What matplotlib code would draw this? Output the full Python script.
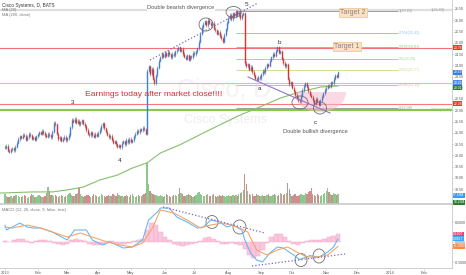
import numpy as np
import pandas as pd
import matplotlib.pyplot as plt
from matplotlib.patches import Ellipse, Polygon

plt.rcParams['font.family'] = ['Liberation Sans', 'DejaVu Sans']

# daily closes from 2 Jan 2013
closes = [
    20.34, 20.42, 20.20, 20.15, 20.26, 20.31, 20.22, 20.38, 20.55, 20.72,
    20.85, 20.78, 20.92, 20.86, 20.70, 20.81, 20.95, 20.88, 20.74, 20.80,
    20.69, 20.85, 20.93, 21.02, 20.96, 21.08, 20.99, 20.90, 20.82, 20.95,
    20.88, 20.80, 21.05, 21.45, 21.38, 20.95, 20.72, 20.80, 20.65, 20.74,
    20.82, 20.68, 20.75, 20.90, 21.25, 21.58, 21.50, 21.62, 21.44, 21.52,
    21.38, 21.47, 21.55, 21.40, 21.30, 21.12, 20.95, 20.88, 21.02, 20.90,
    20.82, 20.95, 20.86, 21.00, 21.12, 21.30, 21.42, 21.20, 21.05, 20.92,
    20.80, 20.86, 20.70, 20.55, 20.62, 20.48, 20.38, 20.45, 20.35, 20.55,
    20.62, 20.50, 20.68, 20.58, 20.72, 20.60, 20.66, 20.85, 20.95, 21.08,
    21.02, 21.15, 21.10, 21.22, 21.16, 20.95, 23.75, 23.95, 23.60, 23.85,
    23.40, 23.20, 23.55, 23.90, 24.20, 24.35, 24.50, 24.38, 24.55, 24.42,
    24.60, 24.48, 24.35, 24.52, 24.45, 24.62, 24.70, 24.80, 24.65, 24.72,
    24.50, 24.38, 24.30, 24.45, 24.25, 24.40, 24.35, 24.55, 24.48, 24.62,
    24.75, 25.05, 25.40, 25.70, 25.85, 25.95, 25.78, 26.02, 25.90, 25.80,
    25.88, 25.62, 25.55, 25.40, 25.48, 25.30, 25.20, 25.05, 25.35, 25.60,
    25.90, 26.10, 26.25, 26.05, 26.30, 26.18, 26.40, 26.22, 26.35, 26.10,
    26.25, 26.30, 24.10, 23.95, 24.05, 23.80, 23.92, 23.70, 23.55, 23.40,
    23.35, 23.50, 23.42, 23.60, 23.75, 23.68, 23.90, 24.05, 23.98, 24.20,
    24.35, 24.50, 24.42, 24.65, 24.80, 24.55, 24.62, 24.30, 24.10, 23.95,
    24.05, 23.40, 23.15, 23.25, 23.00, 22.85, 22.70, 22.55, 22.45, 22.40,
    22.65, 22.90, 23.10, 23.20, 23.05, 22.85, 22.70, 22.60, 22.45, 22.30,
    22.50, 22.40, 22.25, 22.45, 22.60, 22.75, 22.90, 23.00, 23.10, 23.05,
    23.25, 23.20, 23.40, 23.55, 23.50, 23.69,
]

# volume, millions
volumes = [
    58, 45, 40, 38, 42, 35, 44, 48, 52, 47,
    40, 38, 45, 50, 42, 36, 39, 44, 55, 48,
    41, 37, 46, 52, 43, 38, 40, 47, 61, 95,
    70, 52, 48, 44, 50, 46, 39, 42, 51, 45,
    38, 44, 49, 56, 62, 50, 47, 43, 55, 60,
    88, 54, 46, 41, 45, 52, 49, 44, 40, 47,
    53, 48, 42, 39, 45, 58, 50, 44, 41, 46,
    52, 47, 43, 55, 49, 45, 60, 51, 44, 42,
    39, 46, 50, 44, 41, 48, 53, 47, 40, 45,
    51, 46, 42, 49, 55, 62, 230, 110, 75, 60,
    55, 48, 52, 46, 44, 50, 47, 41, 45, 53,
    49, 44, 40, 46, 51, 48, 42, 58, 88, 62,
    54, 47, 43, 50, 56, 49, 45, 41, 47, 52,
    60, 66, 58, 51, 47, 44, 49, 55, 46, 42,
    48, 53, 45, 41, 47, 52, 44, 49, 43, 40,
    46, 51, 45, 42, 48, 44, 50, 47, 55, 62,
    68, 80, 165, 110, 72, 58, 50, 54, 47, 44,
    55, 48, 43, 46, 51, 45, 42, 48, 53, 46,
    44, 50, 57, 48, 45, 52, 60, 55, 49, 58,
    62, 115, 82, 56, 47, 51, 58, 46, 42, 49,
    55, 48, 52, 60, 57, 65, 72, 88, 54, 50,
    47, 53, 49, 45, 51, 56, 62, 70, 88, 66,
    58, 52, 60, 55, 50, 57.53,
]

ma200_idx = [-3, 19, 32, 42, 53, 64, 76, 86, 96, 105, 118, 138, 159, 172, 186, 199, 213, 225]
ma200 = [18.32, 18.37, 18.37, 18.46, 18.59, 18.90, 19.12, 19.43, 19.66, 20.10,
         20.46, 21.12, 21.79, 22.14, 22.54, 22.81, 23.03, 23.08]

macd_idx = [0, 1, 5, 10, 15, 19, 24, 32, 42, 47, 55, 59, 66, 71, 80, 86, 93, 97,
            103, 105, 111, 116, 123, 130, 134, 139, 145, 150, 154, 160, 162, 166,
            170, 174, 179, 184, 188, 195, 199, 206, 212, 218, 222, 225]
macd = [0.42, 0.30, 0.375, 0.475, 0.375, 0.35, 0.35, 0.25, 0.05, 0.30, 0.30, 0.05,
        -0.075, 0.0, -0.15, -0.125, 0.05, 0.55, 0.75, 0.85, 0.85, 0.625, 0.50, 0.35,
        0.375, 0.55, 0.50, 0.375, 0.425, 0.30, 0.05, -0.275, -0.45, -0.50, -0.275,
        -0.125, -0.15, -0.325, -0.44, -0.34, -0.38, -0.25, -0.125, 0.08]

signal_idx = [0, 5, 15, 24, 32, 42, 51, 59, 69, 78, 86, 93, 100, 105, 114, 123, 132,
              139, 147, 157, 164, 170, 177, 184, 191, 197, 204, 211, 218, 225]
signal = [0.375, 0.35, 0.425, 0.35, 0.25, 0.125, 0.225, 0.125, 0.0, -0.075, -0.125,
          -0.025, 0.375, 0.80, 0.725, 0.55, 0.35, 0.425, 0.475, 0.375, 0.25, -0.20,
          -0.325, -0.20, -0.125, -0.25, -0.375, -0.375, -0.325, -0.11]

hist_step = 3
hist = [0.03, 0.0, 0.05, 0.08, 0.07, 0.02, -0.02, 0.02, 0.05, 0.06,
        0.02, -0.03, -0.06, -0.08, -0.06, 0.05, 0.08, 0.06, 0.03, -0.04,
        -0.07, -0.08, -0.05, 0.02, 0.03, -0.03, -0.06, -0.05, -0.02, 0.02,
        0.04, 0.08, 0.30, 0.48, 0.42, 0.25, 0.12, 0.04, -0.04, -0.08,
        -0.10, -0.08, -0.06, -0.03, 0.03, 0.10, 0.12, 0.08, 0.02, -0.04,
        -0.05, -0.03, -0.05, -0.08, -0.18, -0.32, -0.40, -0.35, -0.20, -0.02,
        0.12, 0.20, 0.20, 0.12, 0.02, -0.06, -0.08, -0.03, 0.03, 0.06,
        0.05, 0.04, 0.08, 0.12, 0.16, 0.19]

month_labels = ['2013', 'Feb', 'Mar', 'Apr', 'May', 'Jun', 'Jul', 'Aug', 'Sep',
                'Oct', 'Nov', 'Dec', '2014', 'Feb']
price_ticks = [18.5, 19.0, 19.5, 20.0, 20.5, 21.0, 21.5, 22.0, 22.5, 23.0,
               23.5, 24.0, 24.5, 25.0, 25.5, 26.0, 26.5]
macd_ticks = [0.5, 0.0, -0.5]

fib_ratios = ['1', '0.764', '0.618', '0.5', '0.382', '0.236', '0']
fib_levels = [26.40, 25.43, 24.81, 24.29, 23.77, 23.13, 22.08]
fib_colors = ['#9e9e9e', '#90c4f2', '#7fd37f', '#97dd8f', '#d3dd98', '#f2a8a8', '#9e9e9e']

# user horizontal lines: price, colour, width
hlines = [(26.45, '#dedede', 1.6), (24.78, '#f57272', 0.8), (23.22, '#a9c9f0', 0.8),
          (22.28, '#f57a7a', 0.8), (22.02, '#8dc34f', 1.5)]


# pixel -> data helpers (chart layout)
def px_x(x):
    return (x - 5) / 1.48


def px_p(y):
    return 26.5 - (y - 9) / 22.5


def px_m(y):
    return (242 - y) / 40


fig = plt.figure(figsize=(4.66, 2.75), dpi=100)
ax = fig.add_axes([0, 1 - 204 / 275, 452 / 466, 204 / 275])
am = fig.add_axes([0, 1 - 268 / 275, 452 / 466, 64 / 275], sharex=ax)
av = ax.twinx()
ax.set_zorder(av.get_zorder() + 1)
ax.patch.set_visible(False)

n = len(closes)
idx = np.arange(n)
c = np.array(closes)
o = np.r_[c[0], c[:-1]]
up = c >= o

# volume
av.bar(idx, volumes, width=0.85, color=np.where(up, '#8cc88c', '#cc8f8f'), lw=0)
av.set_ylim(0, 204 / 0.18)
av.axis('off')

# watermark
ax.text(px_x(224), px_p(89), 'Cisco, D', fontsize=18, color='#f3f3f3', ha='center', va='center', zorder=0)
ax.text(px_x(226), px_p(120), 'Cisco Systems', fontsize=9, color='#eeeeee', ha='center', va='center', zorder=0)

# horizontal lines
for p, col, lw in hlines:
    ax.axhline(p, color=col, lw=lw, zorder=1)

# fib tool
ax.hlines(fib_levels, px_x(236), px_x(398), colors=fib_colors, lw=0.7, zorder=1)
for r, p, col in zip(fib_ratios, fib_levels, fib_colors):
    ax.text(px_x(399), p, f'{r}({p:.2f})', fontsize=2.7, color=col, va='center', ha='left')
ax.text(px_x(431), 26.45, '1(26.40)', fontsize=2.7, color='#9e9e9e', va='center')
ax.text(px_x(431), 22.02, '0.382(22.08)', fontsize=2.7, color='#8dc34f', va='center')

# candles
lo = np.minimum(o, c)
hi = np.maximum(np.maximum(o, c), lo + 0.03)
ax.vlines(idx, lo - 0.07, hi + 0.07, colors='#666666', lw=0.4, zorder=3)
ax.vlines(idx, lo, hi, colors=np.where(up, '#3d7fd9', '#e0302c'), lw=1.0, zorder=4)

ax.plot(ma200_idx, ma200, color='#86bf6e', lw=0.8, zorder=2)

# drawings on price
ax.plot([px_x(150), px_x(258)], [px_p(60), px_p(3)], ls=':', color='#7e62c8', lw=0.9, zorder=5)
ax.plot([px_x(248), px_x(330)], [px_p(77), px_p(113)], color='#9575cd', lw=0.8, zorder=5)
t = np.linspace(np.pi, 2 * np.pi, 30)
bowl = np.c_[px_x(320 + 26 * np.cos(t)), px_p(92 - 20 * np.sin(t))]
ax.add_patch(Polygon(bowl, closed=True, fc='#f7b8cf', ec='none', alpha=0.55, zorder=2))
for cx, cy, w, h in [(206, 24.5, 14, 13), (233.5, 12, 15, 11), (300, 102.5, 16, 13), (320, 108, 13, 12)]:
    ax.add_patch(Ellipse((px_x(cx), px_p(cy)), w / 1.48, h / 22.5, fill=False, ec='#707070', lw=0.6, zorder=6))

ax.text(px_x(181), px_p(8), 'Double bearish divergence', fontsize=4.1, color='#555555', ha='center', va='center',
        bbox=dict(boxstyle='square,pad=0.15', fc='white', ec='none'), zorder=5)
ax.text(px_x(315), px_p(131), 'Double bullish divergence', fontsize=4.1, color='#555555', ha='center', va='center')
ax.text(px_x(154), px_p(95), 'Earnings today after market close!!!!', fontsize=6.1, color='#d2313a',
        ha='center', va='center', zorder=5)
for s, x, y in [('5', 247, 4), ('3', 73, 103), ('4', 120, 160), ('a', 259, 89), ('b', 279, 43), ('c', 315, 122)]:
    ax.text(px_x(x), px_p(y), s, fontsize=4.6, color='#333333', ha='center', va='center', zorder=6)
for s, x, y in [('Target 2', 353, 12.5), ('Target 1', 347, 46.5)]:
    ax.text(px_x(x), px_p(y), s, fontsize=5, color='#8a8178', ha='center', va='center', zorder=6,
            bbox=dict(boxstyle='square,pad=0.2', fc='#fbe2c6', ec='#f2c08d', lw=0.5))

fig.text(2 / 466, 1 - 5 / 275, 'Cisco Systems, D, BATS', fontsize=3.4, color='#333333', va='center')
fig.text(2 / 466, 1 - 10 / 275, 'MA (20)', fontsize=3.0, color='#777777', va='center')
fig.text(2 / 466, 1 - 15 / 275, 'MA (200, close)', fontsize=3.0, color='#777777', va='center')
fig.text(2 / 466, 1 - 210 / 275, 'MACD (12, 26, close, 9, false, true)', fontsize=3.0, color='#777777', va='center')

ax.set_xlim(px_x(0), px_x(452))
ax.set_ylim(px_p(204), px_p(0))

# MACD panel
hist_idx = np.arange(0, n, hist_step)
am.bar(hist_idx, hist, width=hist_step, color='#fac8dd', edgecolor='#f5a3c6', lw=0.3)
am.plot(macd_idx, macd, color='#64b3f4', lw=0.75)
am.plot(signal_idx, signal, color='#f6a262', lw=0.75)
am.plot([px_x(163), px_x(265)], [px_m(207), px_m(233)], ls=':', color='#7e62c8', lw=0.9)
am.plot([px_x(252), px_x(345)], [px_m(266), px_m(254)], ls=':', color='#7e62c8', lw=0.9)
for cx, cy, w, h in [(212, 222, 12, 13), (239.5, 227, 13, 14), (301, 260, 12, 13), (319, 256, 12, 14)]:
    am.add_patch(Ellipse((px_x(cx), px_m(cy)), w / 1.48, h / 40, fill=False, ec='#707070', lw=0.6))
am.set_ylim(px_m(268), px_m(204))

# axes styling
for a in (ax, am):
    for s in ('top', 'left'):
        a.spines[s].set_visible(False)
    a.spines['right'].set_color('#c8c8c8')
    a.spines['right'].set_linewidth(0.6)
    a.spines['bottom'].set_color('#c8c8c8')
    a.yaxis.tick_right()
    a.tick_params(axis='y', length=1.2, width=0.4, colors='#c8c8c8', labelcolor='#555555',
                  labelsize=2.5, pad=0.8)
ax.spines['bottom'].set_linewidth(1.2)
am.spines['bottom'].set_linewidth(0.6)
ax.set_yticks(price_ticks)
ax.set_yticklabels([f'{v:.2f}' for v in price_ticks])
am.set_yticks(macd_ticks)
am.set_yticklabels([f'{v:.4f}' for v in macd_ticks])
ax.tick_params(axis='x', bottom=False, labelbottom=False)

dates = pd.bdate_range('2013-01-02', '2014-02-28')
month_pos = [i for i in range(len(dates)) if i == 0 or dates[i].month != dates[i - 1].month]
am.set_xticks(month_pos)
am.set_xticklabels(month_labels)
am.tick_params(axis='x', length=1.5, width=0.4, colors='#c8c8c8', labelcolor='#555555', labelsize=2.8, pad=1)


# value boxes on the price scale
def axis_box(a, y, text, fc):
    a.text(1.003, y, text, transform=a.get_yaxis_transform(), fontsize=2.4, color='white',
           va='center', ha='left', clip_on=False, zorder=10,
           bbox=dict(boxstyle='square,pad=0.15', fc=fc, ec='none'))


axis_box(ax, 24.78, '24.78', '#f2342c')
axis_box(ax, closes[-1], f'{closes[-1]:.2f}', '#3d7fd9')
axis_box(ax, 23.23, '23.22', '#4f8fe0')
axis_box(ax, 22.99, '23.01', '#2e7d32')
axis_box(ax, 22.28, '22.28', '#f2342c')
axis_box(ax, px_p(195), '57.53M', '#3d9be9')
axis_box(ax, px_p(202), '10.25M', '#2e7d32')
axis_box(am, 0.1907, '0.1907', '#ec407a')
axis_box(am, 0.0817, '0.0817', '#42a5f5')
axis_box(am, -0.1090, '-0.1090', '#ff8a3d')

fig.savefig('out.png', dpi=100)
